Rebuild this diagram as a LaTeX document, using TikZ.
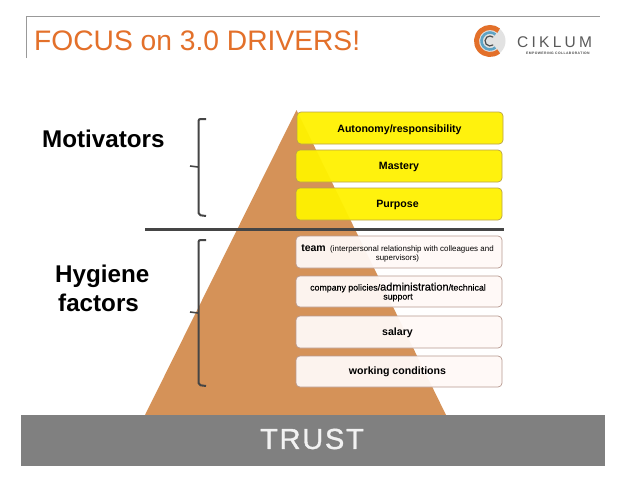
\documentclass[tikz,border=0pt]{standalone}
\usepackage{fontspec}
\setmainfont{Liberation Sans}
\usetikzlibrary{calc}
\definecolor{pyr}{HTML}{D59258}
\definecolor{band}{HTML}{808080}
\definecolor{ttl}{HTML}{E3702A}
\definecolor{rule}{HTML}{454545}
\definecolor{ybox}{HTML}{FFF200}
\definecolor{yedge}{HTML}{B9A24A}
\definecolor{ledge}{HTML}{B89A90}
\definecolor{lfill}{HTML}{FFF9F7}
\definecolor{logoblue}{HTML}{5FA3C4}
\definecolor{logogray}{HTML}{E2E2E2}
\tikzset{
  x=1pt,y=-1pt,
  ybx/.style={rounded corners=4pt,draw=yedge,line width=0.7pt,fill=ybox,fill opacity=0.95,text opacity=1},
  lbx/.style={rounded corners=4pt,draw=ledge,line width=0.7pt,fill=lfill,fill opacity=0.95,text opacity=1},
  boxtxt/.style={font=\fontsize{10.6}{11}\selectfont\bfseries,text=black,align=center},
  smalltxt/.style={font=\fontsize{7.95}{9}\selectfont,text=black,align=center,inner sep=0pt},
  side/.style={font=\fontsize{24.2}{27}\selectfont\bfseries,text=black,align=left,inner sep=0pt},
  bracestroke/.style={draw=rule,line width=2pt,rounded corners=2pt}
}
\begin{document}
\begin{tikzpicture}
\useasboundingbox (0,0) rectangle (638,479);
\fill[white] (0,0) rectangle (638,479);
% title frame
\draw[gray!80,line width=1pt] (26.5,58) -- (26.5,16) -- (600,16);
\node[anchor=base west,inner sep=0pt,text=ttl,font=\fontsize{28.2}{30}\selectfont] (title) at (34,50) {FOCUS on 3.0 DRIVERS!};
% logo
\coordinate (logoc) at (490,41);
\fill[logogray] (logoc) circle (15.5);
\draw[ttl,line width=5pt] (logoc) ++(50:13.5) arc (50:310:13.5);
\draw[logoblue,line width=2.6pt] (logoc) ++(50:8.5) arc (50:310:8.5);
\draw[black!70,line width=1.2pt] (logoc) ++(50:5) arc (50:310:5);
\node[anchor=base west,inner sep=0pt,text=black!65,font=\fontsize{15.5}{16}\selectfont] (logotext) at (517,47) {\addfontfeature{LetterSpace=21}CIKLUM};
\node[anchor=base west,inner sep=0pt,text=black!70,font=\fontsize{3.4}{4}\selectfont\bfseries] (logosub) at (526,54) {\addfontfeature{LetterSpace=12}EMPOWERING COLLABORATION};
% pyramid
\fill[pyr] (296.5,110) -- (145,415) -- (446,415) -- cycle;
% band
\fill[band] (21,415) rectangle (605,466);
\node[text=white!95!black,font=\fontsize{29}{32}\selectfont,inner sep=0pt] (trust) at (312,439) {\addfontfeature{LetterSpace=6,FakeBold=1.2}TRUST};
% divider
\coordinate (ruleA) at (145,229);
\coordinate (ruleB) at (504,229);
\draw[rule,line width=3pt] (ruleA) -- (ruleB);
% boxes
\path[ybx] (297,112) rectangle (503,144);
\path[ybx] (296,150) rectangle (502,182);
\path[ybx] (296,188) rectangle (502,220);
\path[lbx] (296,236) rectangle (502,268);
\path[lbx] (296,276) rectangle (502,307);
\path[lbx] (296,316) rectangle (502,348);
\path[lbx] (296,356) rectangle (502,387);
\node[boxtxt] (auto) at (399.5,129.5) {Autonomy/responsibility};
\node[boxtxt] (mast) at (399,167) {Mastery};
\node[boxtxt] (purp) at (397.5,205) {Purpose};
\node[smalltxt] (team) at (397.5,253) {{\fontsize{10.5}{9}\selectfont\bfseries team}\ \ (interpersonal relationship with colleagues and\\supervisors)};
\node[smalltxt,font=\fontsize{8.8}{9}\selectfont\addfontfeature{FakeBold=0.25}] (admin) at (398,292) {company policies/{\fontsize{11}{9}\selectfont\addfontfeature{FakeBold=0.25}administration}/technical\\support};
\node[boxtxt] (sal) at (397.5,333) {salary};
\node[boxtxt] (work) at (397.5,372) {working conditions};
% side labels
\node[side,anchor=base west] (mot) at (42,147) {Motivators};
\node[side,anchor=base west] (hyg) at (55,282) {Hygiene};
\node[side,anchor=base west] (fac) at (58,311) {factors};
% braces
\draw[bracestroke] (206,119) -- (198.5,119) -- (198.5,215) -- (206,216);
\draw[rule,line width=1.6pt] (190,166) -- (198,167);
\draw[bracestroke] (206,240) -- (198.5,240) -- (198.5,385) -- (206,386);
\draw[rule,line width=1.6pt] (190,312) -- (198,313);
\end{tikzpicture}
\end{document}
